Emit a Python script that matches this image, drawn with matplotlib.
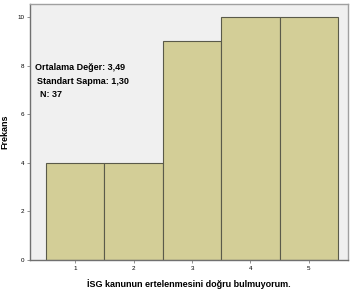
import matplotlib.pyplot as plt

# answer categories and their frequencies
categories = [1, 2, 3, 4, 5]
counts = [4, 4, 9, 10, 10]
yticks = [0, 2, 4, 6, 8, 10]
stats_lines = ["Ortalama Değer: 3,49", "Standart Sapma: 1,30", "N: 37"]

plt.rcParams['font.family'] = ['Liberation Sans', 'DejaVu Sans']

fig = plt.figure(figsize=(3.51, 2.91), dpi=100)
ax = fig.add_axes([30 / 351, 31 / 291, 318 / 351, 256 / 291])
ax.set_facecolor('#f0f0f0')

ax.bar(categories, counts, width=1.0, color='#d3ce97', edgecolor='#5a5a4a', linewidth=0.8)

ax.set_xlim(0.226, 5.67)
ax.set_ylim(0, 10.53)
ax.set_xticks(categories)
ax.set_yticks(yticks)
ax.tick_params(labelsize=4.5, length=2.5, width=0.6, color='#808080', pad=1.5)

for s in ax.spines.values():
    s.set_color('#a0a0a0')
    s.set_linewidth(1.0)
ax.spines['left'].set_color('#707070')
ax.spines['bottom'].set_color('#707070')

ax.set_ylabel("Frekans", fontsize=6.5, fontweight='bold')
ax.yaxis.set_label_coords(-0.066, 0.5)
ax.set_xlabel("İSG kanunun ertelenmesini doğru bulmuyorum.", fontsize=6.5,
              fontweight='bold', labelpad=6)

offsets = [35, 37, 40]
ypix = [67, 81, 95]
for txt, xp, yp in zip(stats_lines, offsets, ypix):
    fig.text(xp / 351, 1 - yp / 291, txt, fontsize=6.5, fontweight='bold',
             va='center', ha='left')

fig.savefig("out.png", dpi=100)
